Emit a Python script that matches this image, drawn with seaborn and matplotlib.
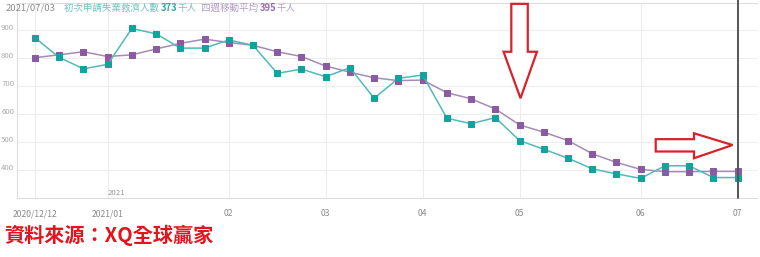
import numpy as np
import pandas as pd
import matplotlib
matplotlib.use("Agg")
import matplotlib.pyplot as plt
import seaborn as sns
from matplotlib.patches import Polygon
from matplotlib.transforms import ScaledTranslation, blended_transform_factory

# ---- data (thousand persons) ----
dates = pd.date_range("2020-12-12", periods=30, freq="7D")
initial_claims = [872, 802, 761, 777, 905, 886, 835, 835, 864, 845,
                  745, 760, 733, 765, 656, 727, 739, 585, 565, 587,
                  505, 474, 442, 404, 386, 370, 415, 415, 373, 373]
moving_avg_4w = [801, 811, 822, 805, 811, 832, 852, 867, 855, 845,
                 822, 805, 771, 749, 729, 719, 721, 676, 654, 618,
                 561, 535, 505, 458, 427, 402, 394, 394, 395, 395]
tick_idx = [0, 3, 8, 12, 16, 20, 25, 29]
tick_labels = ["2020/12/12", "2021/01", "02", "03", "04", "05", "06", "07"]
y_ticks = [400, 500, 600, 700, 800, 900]

df = pd.DataFrame({"i": np.arange(len(dates)), "date": dates,
                   "claims": initial_claims, "avg": moving_avg_4w})

sns.set_theme(style="white")
plt.rcParams["font.family"] = ["Noto Sans CJK TC", "DejaVu Sans"]

W, H = 760, 257
fig = plt.figure(figsize=(W / 100, H / 100), dpi=100)
ax = fig.add_axes([17 / W, 1 - 198 / H, (757 - 17) / W, (198 - 3) / H])

teal_line, teal_mk = "#52bab6", "#12a39f"
purp_line, purp_mk = "#a68bb6", "#8a5ba2"

sns.lineplot(data=df, x="i", y="avg", ax=ax, color=purp_line, lw=1.1,
             marker="s", markersize=5.0, markerfacecolor=purp_mk,
             markeredgecolor=purp_mk, zorder=3)
sns.lineplot(data=df, x="i", y="claims", ax=ax, color=teal_line, lw=1.1,
             marker="s", markersize=5.0, markerfacecolor=teal_mk,
             markeredgecolor=teal_mk, zorder=4)

ax.set_xlim(-0.74, 29.8)
ax.set_ylim(300, 996)
ax.set_xlabel("")
ax.set_ylabel("")
ax.set_xticks(tick_idx)
ax.set_xticklabels(tick_labels)
ax.set_yticks(y_ticks)
ax.tick_params(axis="x", length=0, pad=8, labelsize=6.2, labelcolor="#8a8a8a")
ax.tick_params(axis="y", length=0, pad=2, labelsize=5.6, labelcolor="#aaaaaa")
for lbl in ax.get_yticklabels():
    lbl.set_transform(lbl.get_transform() + ScaledTranslation(0, 3 / 100, fig.dpi_scale_trans))
ax.grid(True, color="#ededed", lw=0.8)
for s in ["left", "bottom", "top"]:
    ax.spines[s].set_color("#dddddd")
    ax.spines[s].set_linewidth(0.8)
ax.spines["right"].set_visible(False)

# year marker
tr = blended_transform_factory(ax.transData, ax.transAxes)
ax.text(3.0, 0.005, "2021", transform=tr, ha="left", va="bottom",
        fontsize=5.6, color="#999999")

# cursor line at last point
ax.axvline(29, color="#555555", lw=1.4, zorder=5, ymin=0, ymax=1.02, clip_on=False)

# red hollow arrows (annotations)
red = "#d8222a"
down = [(19.66, 993), (20.34, 993), (20.34, 822), (20.72, 822), (20.04, 656),
        (19.34, 822), (19.66, 822)]
right = [(25.62, 510), (27.2, 510), (27.2, 531), (28.79, 489), (27.2, 442),
         (27.2, 466), (25.62, 466)]
for pts in (down, right):
    ax.add_patch(Polygon(pts, closed=True, facecolor="white", edgecolor=red,
                         lw=1.6, zorder=6, clip_on=False, joinstyle="miter"))

# header text
fig.canvas.draw()
renderer = fig.canvas.get_renderer()
pieces = [("2021/07/03", "#8c8c8c", "normal", 3),
          ("初次申請失業救濟人數 ", "#6cc4c0", "normal", 8),
          ("373", "#2aa9a5", "bold", 0),
          ("千人", "#6cc4c0", "normal", 0),
          (" 四週移動平均 ", "#b59dc5", "normal", 2),
          ("395", "#9a6fb0", "bold", 0),
          ("千人", "#b59dc5", "normal", 0)]
x = 3
for txt, col, wt, gap in pieces:
    x += gap
    t = fig.text(x / W, 1 - 8 / H, txt, color=col, fontsize=6.8, fontweight=wt,
                 va="center", ha="left")
    bb = t.get_window_extent(renderer)
    x += bb.width

# source text
fig.text(4 / W, 1 - 235 / H, "資料來源：XQ全球贏家", color="#e3141d",
         fontsize=14.5, fontweight="bold", va="center", ha="left",
         family=["Noto Sans CJK TC", "DejaVu Sans"])

fig.savefig("out.png", dpi=100, facecolor="white")
